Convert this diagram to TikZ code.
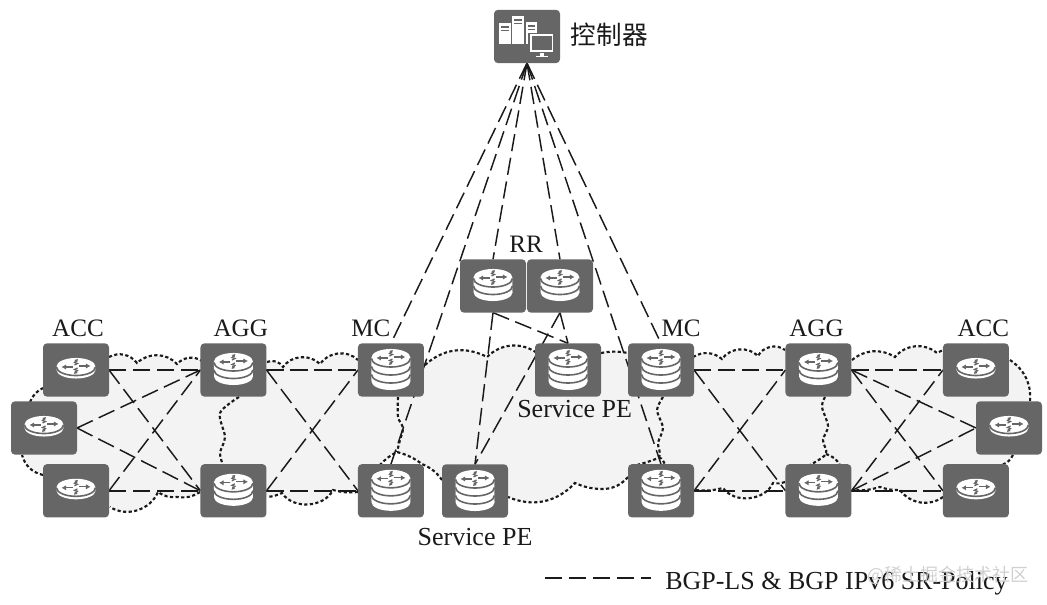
\documentclass[tikz,border=0pt]{standalone}
\usepackage{fontspec}
\setmainfont{Liberation Serif}
\newfontfamily\cjk{Noto Sans CJK SC}
\usepackage{tikz}
\usetikzlibrary{arrows.meta,positioning,backgrounds}
\definecolor{boxc}{HTML}{666666}
\definecolor{inkc}{HTML}{1A1A1A}
\definecolor{cloudc}{HTML}{F3F3F3}
\definecolor{markc}{HTML}{D0D0D0}
\newcommand{\diskbody}[2]{\fill[white] (-19.5,#1) arc[start angle=180,end angle=0,x radius=14.6pt,y radius=6.4pt] -- (19.5,#1+#2) arc[start angle=0,end angle=-180,x radius=14.6pt,y radius=6.4pt] -- cycle;}
\newcommand{\diskband}[2]{\draw[boxc,line width=1.2pt] (-19.5,#1+#2) arc[start angle=180,end angle=360,x radius=14.6pt,y radius=6.4pt];}
\newcommand{\diskarrows}[1]{
\draw[boxc,line width=1pt,-{Latex[length=3.4pt,width=4pt]}] (-3,#1+0.5)--(-14.5,#1+0.5);
\draw[boxc,line width=1pt,-{Latex[length=3.4pt,width=4pt]}] (3,#1-0.5)--(14.5,#1-0.5);
\draw[boxc,line width=0.9pt,-{Latex[length=2.4pt,width=3pt]}] (-1.5,#1-1.5)--(1.5,#1-3)--(-1.5,#1-4)--(2,#1-7.5);
\draw[boxc,line width=0.9pt,-{Latex[length=2.4pt,width=3pt]}] (1.5,#1+1.5)--(-1.5,#1+3)--(1.5,#1+4)--(-2,#1+7.5);
}
\tikzset{
pics/disko/.style={code={\diskbody{-3.5}{3.5}\diskband{-3.5}{0.5}\diskarrows{-3.5}}},
pics/disktw/.style={code={\diskbody{-8.5}{15}\diskband{-8.5}{1}\diskband{-8.5}{8.5}\diskarrows{-8.5}}},
pics/diskth/.style={code={\diskbody{-12.5}{24}\diskband{-12.5}{1}\diskband{-12.5}{9}\diskband{-12.5}{17}\diskarrows{-12.5}}},
pics/servers/.style={code={
\fill[white] (-28,-13.5) rectangle (-16,7.5);
\fill[white] (-15,-20.5) rectangle (-3,7.5);
\fill[white] (-1,-14.5) rectangle (10,7.5);
\fill[boxc] (-26,-10) rectangle (-18,-8.5);
\fill[boxc] (-26,-6.5) rectangle (-18,-5);
\fill[boxc] (-13,-17) rectangle (-5,-15.5);
\fill[boxc] (-13,-13.5) rectangle (-5,-12);
\fill[boxc] (1,-11) rectangle (8,-9.5);
\fill[boxc] (1,-7.5) rectangle (8,-6);
\filldraw[fill=white,draw=boxc,line width=0.8pt] (2,-3) rectangle (27,16.5);
\fill[boxc] (4.5,-0.5) rectangle (24.5,13.5);
\fill[white] (12.5,16.5) rectangle (17,19.5);
\fill[white] (8.5,19.5) rectangle (21,21);
}}
}
\begin{document}
\begin{tikzpicture}[x=0.75pt,y=-0.75pt,node distance=50.6pt and 68.6pt,every node/.style={font=\fontsize{18.8pt}{20pt}\selectfont}]
\tikzstyle{devbox}=[rounded corners=3pt,fill=boxc,minimum width=49.5pt,minimum height=40pt,inner sep=0pt,outer sep=0pt]
\tikzstyle{tag}=[inner sep=0pt,text=inkc]
\tikzstyle{bigtag}=[tag,font=\fontsize{19.5pt}{20pt}\selectfont]
\tikzstyle{bgpline}=[inkc,line width=1.1pt,dash pattern=on 13pt off 5pt]
\tikzstyle{cloudline}=[inkc,line width=1.6pt,dash pattern=on 2.4pt off 1.8pt]
\useasboundingbox (0,0) rectangle (1047,605);
\node[devbox] (ctrl) at (527,36.5) {};
\node[devbox] (rr1) at (493,286) {};
\node[devbox,right=0.75pt of rr1] (rr2) {};
\node[devbox] (acc1) at (76,370) {};
\node[devbox,right=of acc1] (agg1) {};
\node[devbox,right=of agg1] (mc1) {};
\node[devbox,below=of acc1] (acc2) {};
\node[devbox,below=of agg1] (agg2) {};
\node[devbox,below=of mc1] (mc2) {};
\node[devbox] (acc3) at (44,428) {};
\node[devbox] (spe1) at (568,370) {};
\node[devbox] (spe2) at (475,491) {};
\node[devbox] (mc3) at (661,370) {};
\node[devbox,right=of mc3] (agg3) {};
\node[devbox,right=of agg3] (acc4) {};
\node[devbox,below=of mc3] (mc4) {};
\node[devbox,below=of agg3] (agg4) {};
\node[devbox,below=of acc4] (acc5) {};
\node[devbox] (acc6) at (1009,428) {};
\pic at (ctrl) {servers};
\pic at (rr1) {disktw};
\pic at (rr2) {disktw};
\pic at (acc1) {disko};
\pic at (acc2) {disko};
\pic at (acc3) {disko};
\pic at (acc4) {disko};
\pic at (acc5) {disko};
\pic at (acc6) {disko};
\pic at (agg1) {disktw};
\pic at (agg2) {disktw};
\pic at (agg3) {disktw};
\pic at (agg4) {disktw};
\pic at (mc1) {diskth};
\pic at (mc2) {diskth};
\pic at (mc3) {diskth};
\pic at (mc4) {diskth};
\pic at (spe1) {diskth};
\pic at (spe2) {diskth};
\node[tag,right=8pt of ctrl,yshift=1pt,font=\cjk\fontsize{19.2pt}{20pt}\selectfont] (ctrltag) {控制器};
\node[tag,above=5pt of rr1.north east] (rrtag) {RR};
\node[tag,above=4.5pt of acc1,xshift=1.5pt] (acctaga) {ACC};
\node[tag,above=4.5pt of agg1,xshift=5.5pt] (aggtaga) {AGG};
\node[tag,above=4.5pt of mc1,xshift=-15pt] (mctaga) {MC};
\node[tag,above=4.5pt of mc3,xshift=15pt] (mctagb) {MC};
\node[tag,above=4.5pt of agg3,xshift=-1.5pt] (aggtagb) {AGG};
\node[tag,above=4.5pt of acc4,xshift=5.5pt] (acctagb) {ACC};
\node[bigtag,below=2.5pt of spe1,xshift=5pt] (spetaga) {Service PE};
\node[bigtag,below=7.5pt of spe2] (spetagb) {Service PE};
\node[bigtag,anchor=base west] (legendtag) at (665,590) {BGP-LS \& BGP IPv6 SR-Policy};
\node[tag,anchor=base east,text=markc,font=\cjk\fontsize{13.5pt}{14pt}\selectfont] (marktag) at (1029,582) {@稀土掘金技术社区};
\coordinate (lega) at (545,578);
\coordinate (legb) at (651,578);
\draw[bgpline] (lega)--(legb);
\begin{scope}[on background layer]
\path[draw=none,fill=cloudc] (109,357) to[bend left=40] (137,363) to[bend left=45] (177,364) to[bend left=40] (202,361)--(267,362) to[bend left=40] (283,367) to[bend left=50] (320,364) to[bend left=50] (358,360)--(425,365) to[bend left=35] (487,357) to[bend left=40] (537,353)--(601,353) to[bend left=10] (628,353)--(693,357) to[bend left=35] (722,359) to[bend left=50] (758,356) to[bend left=50] (785,350)--(852,360) to[bend left=35] (895,357) to[bend left=45] (937,353)--(1010,360) to[bend left=30] (1030,402)--(1013,455) to[bend left=20] (1002,465)--(943,497) to[bend left=45] (900,490) to[bend left=10] (880,487) to[bend left=10] (852,490)--(785,482) to[bend left=15] (773,483) to[bend left=60] (723,488) to[bend left=10] (695,490)--(628,477) to[bend left=25] (600,489) to[bend left=10] (575,483) to[bend left=35] (508,497)--(442,480) to[bend right=15] (422,464) to[bend right=10] (397,452) to[bend right=10] (380,465)--(358,492) to[bend left=10] (333,490) to[bend left=60] (282,493) to[bend left=10] (267,497)--(200,492) to[bend left=20] (177,497) to[bend left=20] (158,492) to[bend left=50] (110,507)--(43,475) to[bend left=30] (22,455)--(30,402) to[bend left=20] (43,388)--cycle;
\draw[cloudline] (109,357) to[bend left=40] (137,363) to[bend left=45] (177,364) to[bend left=40] (202,361);
\draw[cloudline] (267,362) to[bend left=40] (283,367) to[bend left=50] (320,364) to[bend left=50] (358,360);
\draw[cloudline] (425,365) to[bend left=35] (487,357) to[bend left=40] (537,353);
\draw[cloudline] (601,353) to[bend left=10] (628,353);
\draw[cloudline] (693,357) to[bend left=35] (722,359) to[bend left=50] (758,356) to[bend left=50] (785,350);
\draw[cloudline] (852,360) to[bend left=35] (895,357) to[bend left=45] (937,353) to[bend left=10] (943,350);
\draw[cloudline] (1010,360) to[bend left=30] (1030,402);
\draw[cloudline] (1013,455) to[bend left=20] (1002,465);
\draw[cloudline] (943,497) to[bend left=45] (900,490) to[bend left=10] (880,487) to[bend left=10] (852,490);
\draw[cloudline] (785,482) to[bend left=15] (773,483) to[bend left=60] (723,488) to[bend left=10] (695,490);
\draw[cloudline] (628,477) to[bend left=25] (600,489) to[bend left=10] (575,483) to[bend left=35] (508,497);
\draw[cloudline] (442,480) to[bend right=15] (422,464) to[bend right=10] (397,452) to[bend right=10] (380,465);
\draw[cloudline] (358,492) to[bend left=10] (333,490) to[bend left=60] (282,493) to[bend left=10] (267,497);
\draw[cloudline] (200,492) to[bend left=20] (177,497) to[bend left=20] (158,492) to[bend left=50] (110,507);
\draw[cloudline] (43,475) to[bend left=30] (22,455);
\draw[cloudline] (30,402) to[bend left=20] (43,388);
\draw[cloudline] plot[smooth] coordinates {(239,397) (220,413) (225,437) (220,453) (223,465)};
\draw[cloudline] plot[smooth] coordinates {(398,397) (398,417) (403,428) (400,440) (397,452)};
\draw[cloudline] plot[smooth] coordinates {(663,397) (657,410) (663,428) (658,443) (659,457) (637,465)};
\draw[cloudline] (659,457) to[bend left=20] (665,465);
\draw[cloudline] plot[smooth] coordinates {(825,397) (822,407) (828,426) (823,440) (826,454) (810,465)};
\draw[cloudline] (826,454) to[bend left=20] (840,465);
\draw[bgpline] (ctrl.south)--(mc1.north);
\draw[bgpline] (ctrl.south)--(mc2.north);
\draw[bgpline] (ctrl.south)--(rr1.north);
\draw[bgpline] (ctrl.south)--(rr2.north);
\draw[bgpline] (ctrl.south)--(mc3.north);
\draw[bgpline] (ctrl.south)--(mc4.north);
\draw[bgpline] (rr1.south)--(spe1.north);
\draw[bgpline] (rr1.south)--(spe2.north);
\draw[bgpline] (rr2.south)--(spe1.north);
\draw[bgpline] (rr2.south)--(spe2.north);
\draw[bgpline] (acc1.east)--(agg1.west);
\draw[bgpline] (acc1.east)--(agg2.west);
\draw[bgpline] (acc3.east)--(agg1.west);
\draw[bgpline] (acc3.east)--(agg2.west);
\draw[bgpline] (acc2.east)--(agg1.west);
\draw[bgpline] (acc2.east)--(agg2.west);
\draw[bgpline] (agg1.east)--(mc1.west);
\draw[bgpline] (agg1.east)--(mc2.west);
\draw[bgpline] (agg2.east)--(mc1.west);
\draw[bgpline] (agg2.east)--(mc2.west);
\draw[bgpline] (mc3.east)--(agg3.west);
\draw[bgpline] (mc3.east)--(agg4.west);
\draw[bgpline] (mc4.east)--(agg3.west);
\draw[bgpline] (mc4.east)--(agg4.west);
\draw[bgpline] (agg3.east)--(acc4.west);
\draw[bgpline] (agg3.east)--(acc6.west);
\draw[bgpline] (agg3.east)--(acc5.west);
\draw[bgpline] (agg4.east)--(acc4.west);
\draw[bgpline] (agg4.east)--(acc6.west);
\draw[bgpline] (agg4.east)--(acc5.west);
\end{scope}
\end{tikzpicture}
\end{document}
